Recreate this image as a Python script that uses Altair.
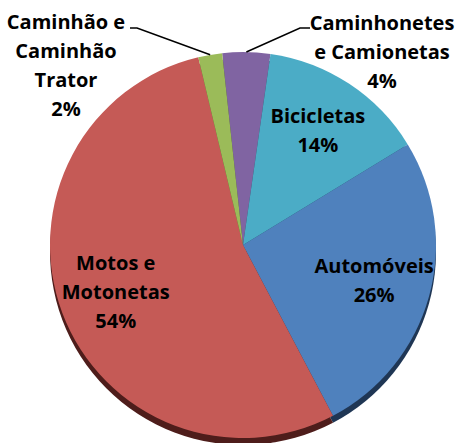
import math
import altair as alt
import pandas as pd

# ---- data ----
categories = ["Caminhonetes e Camionetas", "Bicicletas", "Automóveis",
              "Motos e Motonetas", "Caminhão e Caminhão Trator"]
shares = [4, 14, 26, 54, 2]
label_lines = ["Caminhonetes\ne Camionetas", "Bicicletas", "Automóveis",
               "Motos e\nMotonetas", "Caminhão e\nCaminhão\nTrator"]
label_inside = [False, True, True, True, False]

# ---- styles / layout ----
colors = ["#8064A2", "#4BACC6", "#4F81BD", "#C55A56", "#9BBB59"]
side_colors = ["#3F3151", "#215868", "#1F3654", "#4E1D1B", "#4F6228"]
W, H = 456, 443
CX, CY = 243, 245
R = 193
DEPTH = 7
START = math.radians(-6.2)
LABEL_R = 136
FONT = "Open Sans"
FS = 20
LH = 29

labels = [f"{t}\n{s}%" for t, s in zip(label_lines, shares)]
nlines = [l.count("\n") + 1 for l in labels]
df = pd.DataFrame({
    "cat": categories,
    "share": shares,
    "ord": list(range(len(categories))),
})
for n in sorted(set(nlines)):
    df[f"inner{n}"] = [l if (ins and k == n) else ""
                       for l, ins, k in zip(labels, label_inside, nlines)]

theta = alt.Theta("share:Q", stack=True,
                  scale=alt.Scale(domain=[0, sum(shares)],
                                  range=[START, START + 2 * math.pi]))
order = alt.Order("ord:Q", sort="ascending")

side = alt.Chart(df).mark_arc(outerRadius=R).encode(
    theta=theta, order=order,
    color=alt.Color("cat:N", scale=alt.Scale(domain=categories, range=side_colors), legend=None),
    x=alt.value(CX), y=alt.value(CY + DEPTH),
)
top = alt.Chart(df).mark_arc(outerRadius=R).encode(
    theta=theta, order=order,
    color=alt.Color("cat:N", scale=alt.Scale(domain=categories, range=colors), legend=None),
    x=alt.value(CX), y=alt.value(CY),
)
inner_layers = []
for n in sorted(set(nlines)):
    inner_layers.append(alt.Chart(df).mark_text(
        radius=LABEL_R, font=FONT, fontSize=FS, fontWeight="bold", color="black",
        lineBreak="\n", lineHeight=LH, align="center", baseline="middle",
        dy=-(n - 1) * LH / 2,
    ).encode(theta=theta, order=order, text=f"inner{n}:N",
             x=alt.value(CX), y=alt.value(CY)))

# ---- callouts for the small slices ----
callouts = {  # category -> (label block centre x, y, elbow x, end x, line y)
    "Caminhão e Caminhão Trator": (66, 66, 137, 130, 28),
    "Caminhonetes e Camionetas": (382, 53, 300, 310, 28),
}
total = sum(shares)
cum = 0
line_rows, text_rows = [], []
for c, s, l, n in zip(categories, shares, labels, nlines):
    mid = START + 2 * math.pi * (cum + s / 2) / total
    cum += s
    if c in callouts:
        lx, ly, ex, endx, liney = callouts[c]
        sx, sy = CX + R * math.sin(mid), CY - R * math.cos(mid)
        for i, (px, py) in enumerate([(sx, sy), (ex, liney), (endx, liney)]):
            line_rows.append({"cat": c, "i": i, "px": px, "py": py})
        text_rows.append({"cat": c, "txt": l, "px": lx, "py": ly - (n - 1) * LH / 2})

xs = alt.Scale(domain=[0, W], range=[0, W])
ys = alt.Scale(domain=[0, H], range=[0, H])
leaders = alt.Chart(pd.DataFrame(line_rows)).mark_line(color="black", strokeWidth=1.5).encode(
    x=alt.X("px:Q", scale=xs, axis=None),
    y=alt.Y("py:Q", scale=ys, axis=None),
    detail="cat:N", order="i:Q",
)
outer_text = alt.Chart(pd.DataFrame(text_rows)).mark_text(
    font=FONT, fontSize=FS, fontWeight="bold", color="black",
    lineBreak="\n", lineHeight=LH, align="center", baseline="middle",
).encode(
    x=alt.X("px:Q", scale=xs, axis=None),
    y=alt.Y("py:Q", scale=ys, axis=None),
    text="txt:N",
)

chart = alt.layer(side, top, *inner_layers, leaders, outer_text).resolve_scale(
    color="independent"
).properties(width=W, height=H, padding=0, autosize="none", background="white"
).configure_view(stroke=None)

chart.save("out.html", embed_options={"renderer": "svg", "actions": False})
